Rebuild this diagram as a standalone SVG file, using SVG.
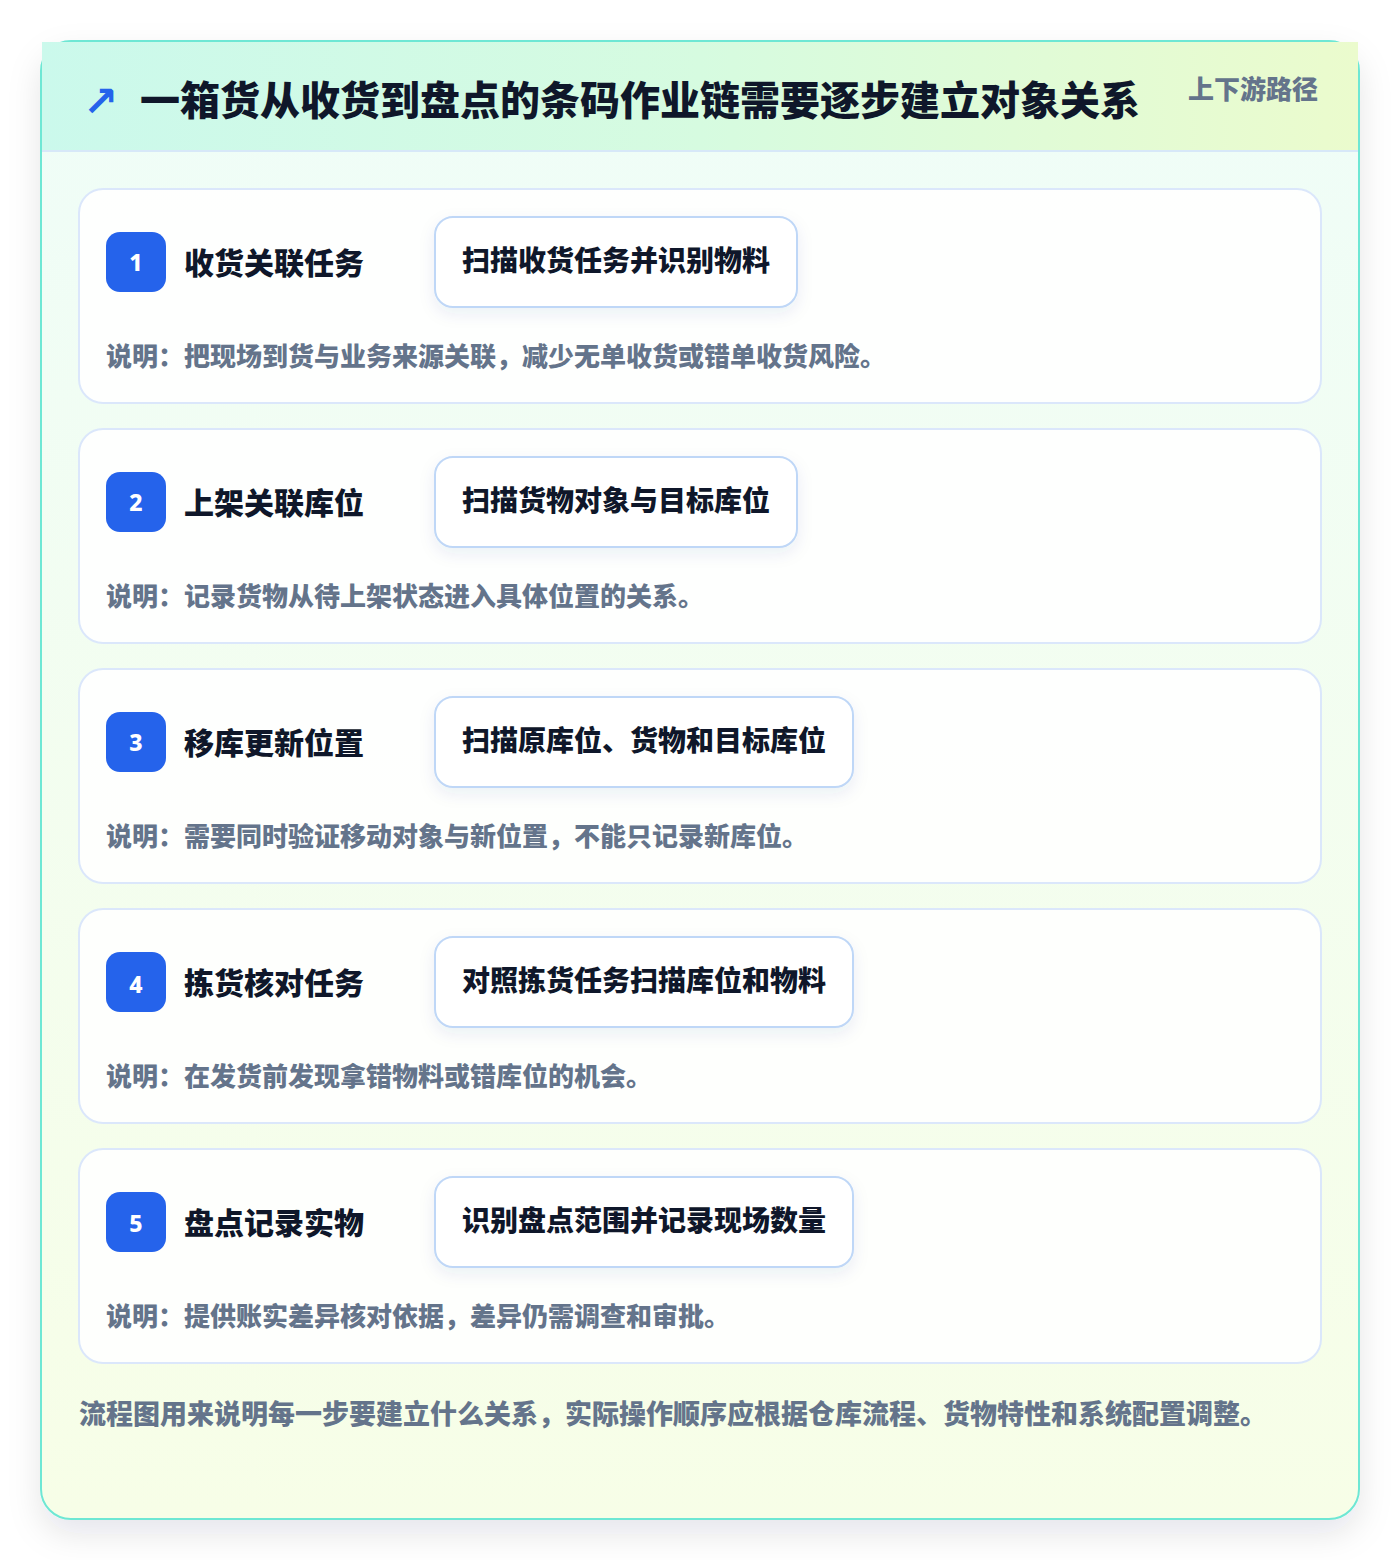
<svg xmlns="http://www.w3.org/2000/svg" width="1400" height="1560" viewBox="0 0 1400 1560">
<defs>
<linearGradient id="frameBg" x1="0" y1="0" x2="0" y2="1">
<stop offset="0" stop-color="#effdf8"/>
<stop offset="1" stop-color="#f7fee7"/>
</linearGradient>
<linearGradient id="headBg" x1="0" y1="0" x2="1" y2="0">
<stop offset="0" stop-color="#cbf9ec"/>
<stop offset="0.5" stop-color="#d6fbe0"/>
<stop offset="1" stop-color="#ebfbcd"/>
</linearGradient>
<filter id="frameShadow" x="-10%" y="-10%" width="120%" height="120%">
<feDropShadow dx="0" dy="14" stdDeviation="16" flood-color="#0f172a" flood-opacity="0.10"/>
</filter>
<filter id="chipShadow" x="-20%" y="-30%" width="140%" height="180%">
<feDropShadow dx="0" dy="6" stdDeviation="8" flood-color="#1e3a8a" flood-opacity="0.08"/>
</filter>
<style>
.cjk{font-family:"Noto Sans CJK SC","Noto Sans",sans-serif;font-weight:700}
.heavy{font-weight:900}
.card{fill:#ffffff;fill-opacity:0.88;stroke:#dbe7fb;stroke-width:2}
.badge{fill:#2563eb}
.num{fill:#ffffff;font-family:"Noto Sans","DejaVu Sans",sans-serif;font-weight:800;font-size:23px}
.stitle{fill:#0f172a;font-size:30px}
.chip{fill:#ffffff;stroke:#bfd7f7;stroke-width:2}
.chiptext{fill:#0f172a;font-size:28px}
.desc{fill:#64748b;font-size:26px}
</style>
</defs>
<rect width="1400" height="1560" fill="#ffffff"/>
<g id="frame">
<rect x="41" y="41" width="1318" height="1478" rx="30" fill="url(#frameBg)" stroke="#6ee7d4" stroke-width="2" filter="url(#frameShadow)"/>
<rect x="42" y="42" width="1316" height="109" fill="url(#headBg)"/>
<line x1="42" y1="151" x2="1358" y2="151" stroke="#d7e8f8" stroke-width="2"/>
<text x="83" y="116" fill="#2563eb" font-family="DejaVu Sans,sans-serif" font-size="42" font-weight="700">↗</text>
<text class="cjk heavy" x="140" y="115" fill="#0f172a" font-size="40">一箱货从收货到盘点的条码作业链需要逐步建立对象关系</text>
<text class="cjk heavy" x="1318" y="99" fill="#64748b" font-size="26" text-anchor="end">上下游路径</text>
</g>
<g id="step1">
<rect class="card" x="79" y="189" width="1242" height="214" rx="24"/>
<rect class="badge" x="106" y="232" width="60" height="60" rx="14"/>
<text class="num" x="136" y="271" text-anchor="middle">1</text>
<text class="cjk heavy stitle" x="184" y="274">收货关联任务</text>
<rect class="chip" x="435" y="217" width="362" height="90" rx="18" filter="url(#chipShadow)"/>
<text class="cjk heavy chiptext" x="462" y="271">扫描收货任务并识别物料</text>
<text class="cjk heavy desc" x="106" y="366">说明：把现场到货与业务来源关联，减少无单收货或错单收货风险。</text>
</g>
<g id="step2">
<rect class="card" x="79" y="429" width="1242" height="214" rx="24"/>
<rect class="badge" x="106" y="472" width="60" height="60" rx="14"/>
<text class="num" x="136" y="511" text-anchor="middle">2</text>
<text class="cjk heavy stitle" x="184" y="514">上架关联库位</text>
<rect class="chip" x="435" y="457" width="362" height="90" rx="18" filter="url(#chipShadow)"/>
<text class="cjk heavy chiptext" x="462" y="511">扫描货物对象与目标库位</text>
<text class="cjk heavy desc" x="106" y="606">说明：记录货物从待上架状态进入具体位置的关系。</text>
</g>
<g id="step3">
<rect class="card" x="79" y="669" width="1242" height="214" rx="24"/>
<rect class="badge" x="106" y="712" width="60" height="60" rx="14"/>
<text class="num" x="136" y="751" text-anchor="middle">3</text>
<text class="cjk heavy stitle" x="184" y="754">移库更新位置</text>
<rect class="chip" x="435" y="697" width="418" height="90" rx="18" filter="url(#chipShadow)"/>
<text class="cjk heavy chiptext" x="462" y="751">扫描原库位、货物和目标库位</text>
<text class="cjk heavy desc" x="106" y="846">说明：需要同时验证移动对象与新位置，不能只记录新库位。</text>
</g>
<g id="step4">
<rect class="card" x="79" y="909" width="1242" height="214" rx="24"/>
<rect class="badge" x="106" y="952" width="60" height="60" rx="14"/>
<text class="num" x="136" y="993" text-anchor="middle">4</text>
<text class="cjk heavy stitle" x="184" y="994">拣货核对任务</text>
<rect class="chip" x="435" y="937" width="418" height="90" rx="18" filter="url(#chipShadow)"/>
<text class="cjk heavy chiptext" x="462" y="991">对照拣货任务扫描库位和物料</text>
<text class="cjk heavy desc" x="106" y="1086">说明：在发货前发现拿错物料或错库位的机会。</text>
</g>
<g id="step5">
<rect class="card" x="79" y="1149" width="1242" height="214" rx="24"/>
<rect class="badge" x="106" y="1192" width="60" height="60" rx="14"/>
<text class="num" x="136" y="1232" text-anchor="middle">5</text>
<text class="cjk heavy stitle" x="184" y="1234">盘点记录实物</text>
<rect class="chip" x="435" y="1177" width="418" height="90" rx="18" filter="url(#chipShadow)"/>
<text class="cjk heavy chiptext" x="462" y="1231">识别盘点范围并记录现场数量</text>
<text class="cjk heavy desc" x="106" y="1326">说明：提供账实差异核对依据，差异仍需调查和审批。</text>
</g>
<g id="footer">
<text class="cjk heavy" x="79" y="1424" fill="#64748b" font-size="27">流程图用来说明每一步要建立什么关系，实际操作顺序应根据仓库流程、货物特性和系统配置调整。</text>
</g>
<g id="connectors"></g>
</svg>
